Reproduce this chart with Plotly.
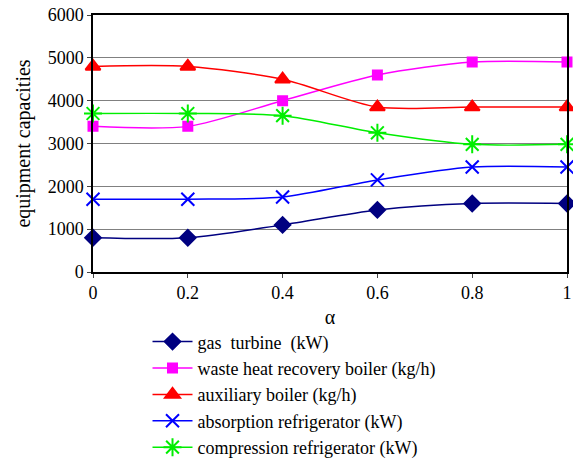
import plotly.graph_objects as go

alpha = [0, 0.2, 0.4, 0.6, 0.8, 1.0]
gas_turbine = [800, 800, 1100, 1450, 1600, 1600]
waste_heat = [3400, 3400, 4000, 4600, 4900, 4900]
aux_boiler = [4800, 4800, 4500, 3850, 3850, 3850]
absorption = [1700, 1700, 1750, 2150, 2450, 2450]
compression = [3700, 3700, 3650, 3250, 2980, 2980]

names = ["gas  turbine  (kW)", "waste heat recovery boiler (kg/h)", "auxiliary boiler (kg/h)",
         "absorption refrigerator (kW)", "compression refrigerator (kW)"]
series = [gas_turbine, waste_heat, aux_boiler, absorption, compression]
colors = ["#000080", "#ff00ff", "#ff0000", "#0000ff", "#00ee00"]
symbols = ["diamond", "square", "triangle-up", "x-thin-open", "asterisk-open"]
sizes = [12, 9, 13, 13, 15]

FONT = "Liberation Serif, DejaVu Serif, serif"

fig = go.Figure()
for n, s, c, sym, sz in zip(names, series, colors, symbols, sizes):
    fig.add_trace(go.Scatter(
        x=alpha, y=s, name=n, mode="lines+markers",
        line=dict(color=c, width=1.5, shape="spline", smoothing=0.8),
        marker=dict(symbol=sym, size=sz, color=c, line=dict(color=c, width=2)),
        cliponaxis=False,
    ))

fig.update_layout(
    width=573, height=460,
    margin=dict(l=93, r=6, t=15, b=188, autoexpand=False),
    paper_bgcolor="white", plot_bgcolor="white",
    font=dict(family=FONT, size=18, color="black"),
    showlegend=True,
    legend=dict(x=0.115, y=-0.2, xanchor="left", yanchor="top",
                font=dict(family=FONT, size=18),
                tracegroupgap=0, itemwidth=40, bgcolor="rgba(0,0,0,0)"),
)
fig.update_xaxes(range=[0, 1], tickvals=[0, 0.2, 0.4, 0.6, 0.8, 1.0],
                 ticktext=["0", "0.2", "0.4", "0.6", "0.8", "1"],
                 showgrid=False, zeroline=False, showline=True, linecolor="black",
                 linewidth=1.5, mirror=True, ticks="outside", ticklen=4,
                 title=dict(text="α", standoff=8, font=dict(size=20)))
fig.update_yaxes(range=[0, 6000], dtick=1000, showgrid=True, gridcolor="#808080",
                 gridwidth=1, zeroline=False, showline=True, linecolor="black",
                 linewidth=1.5, mirror=True, ticks="outside", ticklen=4,
                 title=dict(text="equipment capacities", standoff=12, font=dict(size=20)))

fig.write_html("out.html")
